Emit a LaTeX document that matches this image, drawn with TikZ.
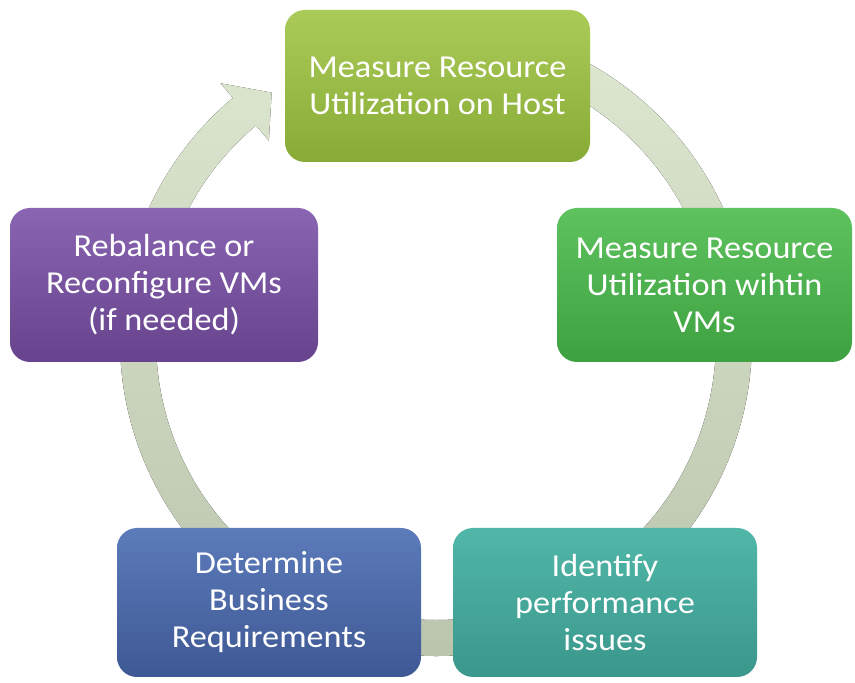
\documentclass[tikz,border=0pt]{standalone}
\usepackage{fontspec}
\setmainfont[FakeStretch=1.07]{Carlito}
\usetikzlibrary{shapes,backgrounds}

\definecolor{ringtop}{HTML}{DEE7D0}
\definecolor{ringbot}{HTML}{BAC4AC}
\definecolor{hosttop}{HTML}{ABCB58}
\definecolor{hostbot}{HTML}{88AB36}
\definecolor{vmtop}{HTML}{5EC25E}
\definecolor{vmbot}{HTML}{3EA141}
\definecolor{issuetop}{HTML}{50B7A8}
\definecolor{issuebot}{HTML}{3A978B}
\definecolor{reqtop}{HTML}{5C7BBA}
\definecolor{reqbot}{HTML}{3E5894}
\definecolor{rebtop}{HTML}{8965B2}
\definecolor{rebbot}{HTML}{67438D}

\begin{document}
\begin{tikzpicture}[x=1pt,y=1pt,
  stage/.style={draw=none,rounded corners=20pt,inner sep=0pt,align=center,
    text=white,font=\fontsize{32}{37}\selectfont},
  cyclering/.style={draw=none,top color=ringtop,bottom color=ringbot}]
\useasboundingbox (0,0) rectangle (855,683);
% the cycle arrow, behind the boxes
\begin{scope}[shift={(436,343)}]
\fill[cyclering] (85:316pt) arc[start angle=85,end angle=-230,radius=316pt]
  -- (-230:335pt) -- (-236.4:297pt) -- (-230:260pt) -- (-230:280pt)
  arc[start angle=-230,end angle=85,radius=280pt] -- cycle;
\end{scope}
\node[stage,top color=hosttop,bottom color=hostbot,minimum width=305pt,minimum height=152pt]
  (host) at (437.5,597) {Measure Resource\\Utilization on Host};
\node[stage,top color=vmtop,bottom color=vmbot,minimum width=295pt,minimum height=154pt]
  (vms) at (704.5,398) {Measure Resource\\Utilization wihtin\\VMs};
\node[stage,top color=issuetop,bottom color=issuebot,minimum width=304pt,minimum height=149pt]
  (issues) at (605,80.5) {Identify\\performance\\issues};
\node[stage,top color=reqtop,bottom color=reqbot,minimum width=304pt,minimum height=149pt]
  (reqs) at (269,80.5) {Determine\\Business\\Requirements};
\node[stage,top color=rebtop,bottom color=rebbot,minimum width=308pt,minimum height=154pt]
  (rebal) at (164,398) {Rebalance or\\Reconfigure VMs\\(if needed)};
\end{tikzpicture}
\end{document}
